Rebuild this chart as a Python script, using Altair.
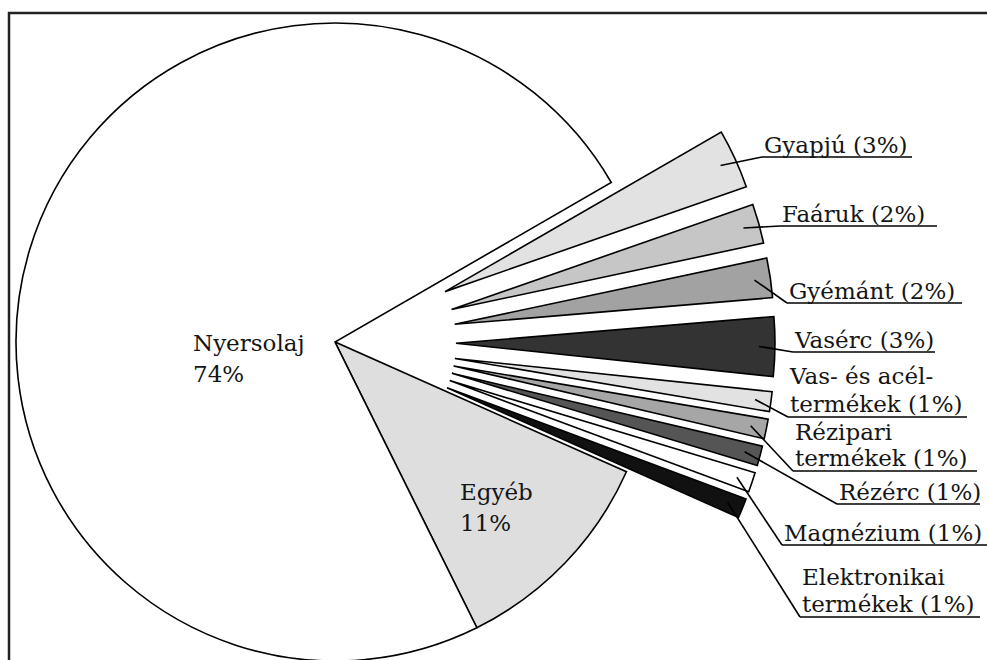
import math
import altair as alt
import pandas as pd

# ---------------- data ----------------
categories = ["Gyapjú", "Faáruk", "Gyémánt", "Vasérc", "Vas- és acéltermékek",
              "Rézipari termékek", "Rézérc", "Magnézium", "Elektronikai termékek",
              "Egyéb", "Nyersolaj"]
values = [3, 2, 2, 3, 1, 1, 1, 1, 1, 11, 74]
# how long names are broken over two lines in the labels
wraps = {"Vas- és acéltermékek": ("Vas- és acél-", "termékek"),
         "Rézipari termékek": ("Rézipari", "termékek"),
         "Elektronikai termékek": ("Elektronikai", "termékek")}

# ---------------- styles / layout ----------------
fills = ["#e2e2e2", "#c6c6c6", "#a2a2a2", "#333333", "#e2e2e2",
         "#a6a6a6", "#555555", "#ffffff", "#111111", "#dedede", "#ffffff"]
exploded = [True] * 9 + [False, False]
W, H = 987, 660
CX, CY = 335, 342          # pie centre (px)
R = 319                    # radius (px)
EXPLODE = 121              # explode distance of the small slices (px)
START = math.pi / 3        # first slice starts at 2 o'clock
FONT = "DejaVu Serif, Liberation Serif, serif"
FS = 23

# outer label anchors: underline start x, underline y, underline end x
anchors = [(762, 157, 912), (780, 226, 937), (787, 303, 962), (793, 352, 935),
           (788, 417, 967), (793, 471, 977), (837, 504, 980), (782, 545, 990),
           (800, 617, 980)]
line_gap = [0, 0, 0, 0, 28, 26, 0, 0, 27]
# inner label positions relative to pie centre (first baseline)
inner_pos = {"Egyéb": (125, 158), "Nyersolaj": (-142, 9)}
INNER_GAP = 31

# ---------------- slice geometry ----------------
total = sum(values)
rows = []
cum = 0.0
for i, (c, v) in enumerate(zip(categories, values)):
    p0, p1 = cum, cum + v
    cum = p1
    mid = START + 2 * math.pi * (p0 + p1) / 2 / total
    d = EXPLODE if exploded[i] else 0
    rows.append(dict(category=c, value=v, p0=p0, p1=p1, mid=mid,
                     cx=CX + d * math.sin(mid), cy=CY - d * math.cos(mid)))
slices = pd.DataFrame(rows)

# labels
leaders, unders, texts = [], [], []
for i in range(9):
    s = rows[i]
    ux, uy, ux2 = anchors[i]
    rl = 0.95 * R
    leaders.append(dict(x=s["cx"] + rl * math.sin(s["mid"]),
                        y=s["cy"] - rl * math.cos(s["mid"]), x2=ux, y2=uy))
    unders.append(dict(x=ux, y=uy, x2=ux2, y2=uy))
    name, v = categories[i], values[i]
    if name in wraps:
        a, b = wraps[name]
        texts.append(dict(x=ux + 2, y=uy - 5 - line_gap[i], t=a))
        texts.append(dict(x=ux + 2, y=uy - 5, t=f"{b} ({v}%)"))
    else:
        texts.append(dict(x=ux + 2, y=uy - 4, t=f"{name} ({v}%)"))
for name in ["Egyéb", "Nyersolaj"]:
    v = values[categories.index(name)]
    dx, dy = inner_pos[name]
    texts.append(dict(x=CX + dx, y=CY + dy, t=name))
    texts.append(dict(x=CX + dx, y=CY + dy + INNER_GAP, t=f"{v}%"))

leaders = pd.DataFrame(leaders)
unders = pd.DataFrame(unders)
texts = pd.DataFrame(texts)

px = dict(scale=None, axis=None)

arcs = alt.Chart(slices).mark_arc(stroke="black", strokeWidth=1.6, radius=R).encode(
    x=alt.X("cx:Q", **px),
    y=alt.Y("cy:Q", **px),
    theta=alt.Theta("p0:Q", stack=None,
                    scale=alt.Scale(domain=[0, total], range=[START, START + 2 * math.pi])),
    theta2="p1:Q",
    color=alt.Color("category:N", legend=None,
                    scale=alt.Scale(domain=categories, range=fills)),
    order=alt.Order("p0:Q"),
)

def rules(df):
    return alt.Chart(df).mark_rule(color="black", strokeWidth=1.6).encode(
        x=alt.X("x:Q", **px), y=alt.Y("y:Q", **px),
        x2="x2:Q", y2="y2:Q")

lab = alt.Chart(texts).mark_text(align="left", baseline="alphabetic", font=FONT,
                                 fontSize=FS, color="#151515").encode(
    x=alt.X("x:Q", **px), y=alt.Y("y:Q", **px), text="t:N")

frame = alt.Chart(pd.DataFrame({"a": [0]})).mark_rect(
    filled=False, stroke="#222222", strokeWidth=2.5).encode(
    x=alt.value(9), x2=alt.value(W + 20), y=alt.value(13), y2=alt.value(H + 40))

chart = alt.layer(frame, arcs, rules(leaders), rules(unders), lab).properties(
    width=W, height=H, autosize=alt.AutoSizeParams(type="none"), padding=0,
    background="white",
).configure_view(stroke=None)

chart.save("out.html", embed_options={"renderer": "svg", "actions": False})
